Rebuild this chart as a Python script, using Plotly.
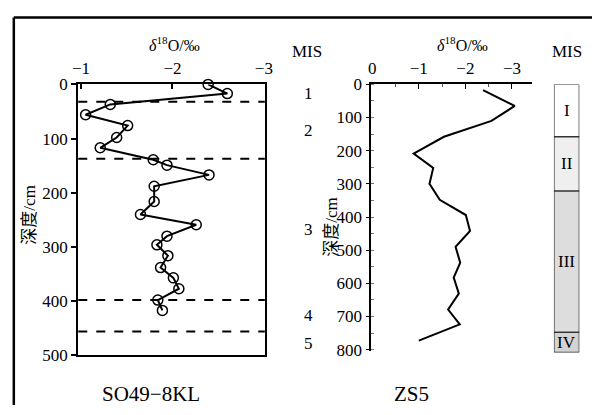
import plotly.graph_objects as go

# ---- data: SO49-8KL ----
so_d18o = [-2.39, -2.60, -1.32, -1.05, -1.51, -1.39, -1.21, -1.79, -1.94, -2.40,
           -1.80, -1.80, -1.65, -2.26, -1.94, -1.83, -1.95, -1.87, -2.01, -2.07,
           -1.84, -1.89]
so_depth = [0, 17, 37, 56, 76, 98, 117, 139, 149, 167,
            188, 216, 240, 259, 280, 296, 316, 338, 357, 377,
            398, 417]
so_mis_bounds = [0, 32, 137, 398, 456, 500]
so_mis_labels = ["1", "2", "3", "4", "5"]

# ---- data: ZS5 ----
zs_d18o = [-2.38, -3.06, -2.56, -1.54, -0.89, -1.31, -1.23, -1.45, -2.01, -2.10,
           -1.79, -1.89, -1.75, -1.86, -1.63, -1.88, -1.00]
zs_depth = [17, 65, 110, 158, 209, 252, 300, 348, 394, 442,
            490, 538, 583, 631, 679, 724, 773]
zs_mis_bounds = [0, 158, 322, 748, 809]
zs_mis_labels = ["I", "II", "III", "IV"]
zs_mis_colors = ["#ffffff", "#efefef", "#dddddd", "#d3d3d3"]

left_ticks = [-1, -2, -3]
right_ticks = [0, -1, -2, -3]

W, H = 600, 415
def fx(px): return px / W
def fy(py): return 1 - py / H

SERIF = "Liberation Serif, Times New Roman, DejaVu Serif, serif"
CJK = "Noto Sans CJK SC"
fig = go.Figure()

fig.add_trace(go.Scatter(
    x=so_d18o, y=so_depth, mode="lines+markers", xaxis="x", yaxis="y",
    line=dict(color="black", width=2),
    marker=dict(symbol="circle-open", size=10, color="black", line=dict(width=1.5)),
    showlegend=False, cliponaxis=False))

fig.add_trace(go.Scatter(
    x=zs_d18o, y=zs_depth, mode="lines", xaxis="x2", yaxis="y2",
    line=dict(color="black", width=2), showlegend=False))

# MIS column for ZS5
for i, lab in enumerate(zs_mis_labels):
    fig.add_trace(go.Bar(
        x=[0], y=[zs_mis_bounds[i + 1] - zs_mis_bounds[i]], base=[zs_mis_bounds[i]],
        width=[1], xaxis="x3", yaxis="y3", showlegend=False,
        marker=dict(color=zs_mis_colors[i], line=dict(color="#333333", width=1.3)),
        hoverinfo="skip"))

shapes = []
for b in so_mis_bounds[1:-1]:
    shapes.append(dict(type="line", xref="x domain", yref="y", x0=0, x1=1, y0=b, y1=b,
                       line=dict(color="black", width=2, dash="dash")))
# outer frame (left and top edges; the rest lies outside the picture)
shapes.append(dict(type="line", xref="paper", yref="paper", x0=fx(8), x1=fx(8),
                   y0=0, y1=fy(9), line=dict(color="black", width=2.5)))
shapes.append(dict(type="line", xref="paper", yref="paper", x0=fx(8), x1=1,
                   y0=fy(9), y1=fy(9), line=dict(color="black", width=2.5)))

ann = []
def add_text(text, x, y, font, xref="paper", yref="paper", angle=0):
    ann.append(dict(text=text, xref=xref, yref=yref, x=x, y=y, showarrow=False,
                    xanchor="center", yanchor="middle", textangle=angle, font=font))

tfont = dict(family=SERIF, size=17, color="black")
add_text("MIS", fx(308), fy(45), tfont)
for i, lab in enumerate(so_mis_labels):
    mid = (so_mis_bounds[i] + so_mis_bounds[i + 1]) / 2
    add_text(lab, fx(310), mid, tfont, yref="y")
add_text("MIS", fx(574), fy(45), tfont)
for i, lab in enumerate(zs_mis_labels):
    mid = (zs_mis_bounds[i] + zs_mis_bounds[i + 1]) / 2
    add_text(lab, 0, mid, dict(family=SERIF, size=17, color="black"), xref="x3", yref="y3")
# axis titles
dfont = dict(family=SERIF, size=16, color="black")
add_text("<i>δ</i><sup>18</sup>O/‰", fx(173), fy(37), dfont)
add_text("<i>δ</i><sup>18</sup>O/‰", fx(467), fy(37), dfont)
ylab = f'<span style="font-family:{CJK}">深度</span>/cm'
add_text(ylab, fx(22), fy(215), dict(family=SERIF, size=17, color="black"), angle=-90)
add_text(ylab, fx(331), fy(228), dict(family=SERIF, size=17, color="black"), angle=-90)
add_text("SO49−8KL", fx(148), fy(403), dict(family=SERIF, size=21, color="black"))
add_text("ZS5", fx(415), fy(403), dict(family=SERIF, size=21, color="black"))

axfont = dict(family=SERIF, size=17, color="black")
fig.update_layout(
    width=W, height=H, margin=dict(l=0, r=0, t=0, b=0, pad=0),
    paper_bgcolor="white", plot_bgcolor="white", barmode="overlay",
    shapes=shapes, annotations=ann,
    xaxis=dict(domain=[fx(74), fx(265)], range=[-0.97, -3.01], side="top",
               anchor="y", tickvals=left_ticks, ticks="inside", ticklen=5,
               tickcolor="black", tickwidth=1.5, showline=True, mirror=True,
               linecolor="black", linewidth=2, showgrid=False, zeroline=False,
               tickfont=axfont, ticklabelstandoff=2),
    yaxis=dict(domain=[fy(363), fy(79)], range=[500, 0], anchor="x",
               tickvals=[0, 100, 200, 300, 400, 500], ticks="outside", ticklen=5,
               tickcolor="black", tickwidth=1.5, showline=True, mirror=True,
               linecolor="black", linewidth=2, showgrid=False, zeroline=False,
               tickfont=axfont),
    xaxis2=dict(domain=[fx(374), fx(539)], range=[0.02, -3.44], side="top",
                anchor="y2", tickvals=right_ticks, ticks="inside", ticklen=5,
                tickcolor="black", tickwidth=1.2,
                minor=dict(dtick=0.5, tick0=0, ticks="inside", ticklen=3,
                           tickcolor="#555555", tickwidth=1),
                showline=True, linecolor="black", linewidth=1.5, showgrid=False,
                zeroline=False, tickfont=axfont, ticklabelstandoff=2),
    yaxis2=dict(domain=[fy(358), fy(79)], range=[803, 0], anchor="x2",
                tickvals=[0, 100, 200, 300, 400, 500, 600, 700, 800], ticks="outside",
                ticklen=4, tickcolor="black", tickwidth=1.2,
                minor=dict(dtick=50, tick0=0, ticks="inside", ticklen=3,
                           tickcolor="#777777", tickwidth=1),
                showline=True, linecolor="black", linewidth=1.5, showgrid=False,
                zeroline=False, tickfont=axfont),
    xaxis3=dict(domain=[fx(561), fx(587)], range=[-0.5, 0.5], anchor="y3",
                visible=False, fixedrange=True),
    yaxis3=dict(domain=[fy(360), fy(79)], range=[809, 0], anchor="x3",
                visible=False),
)

fig.write_html("out.html")
